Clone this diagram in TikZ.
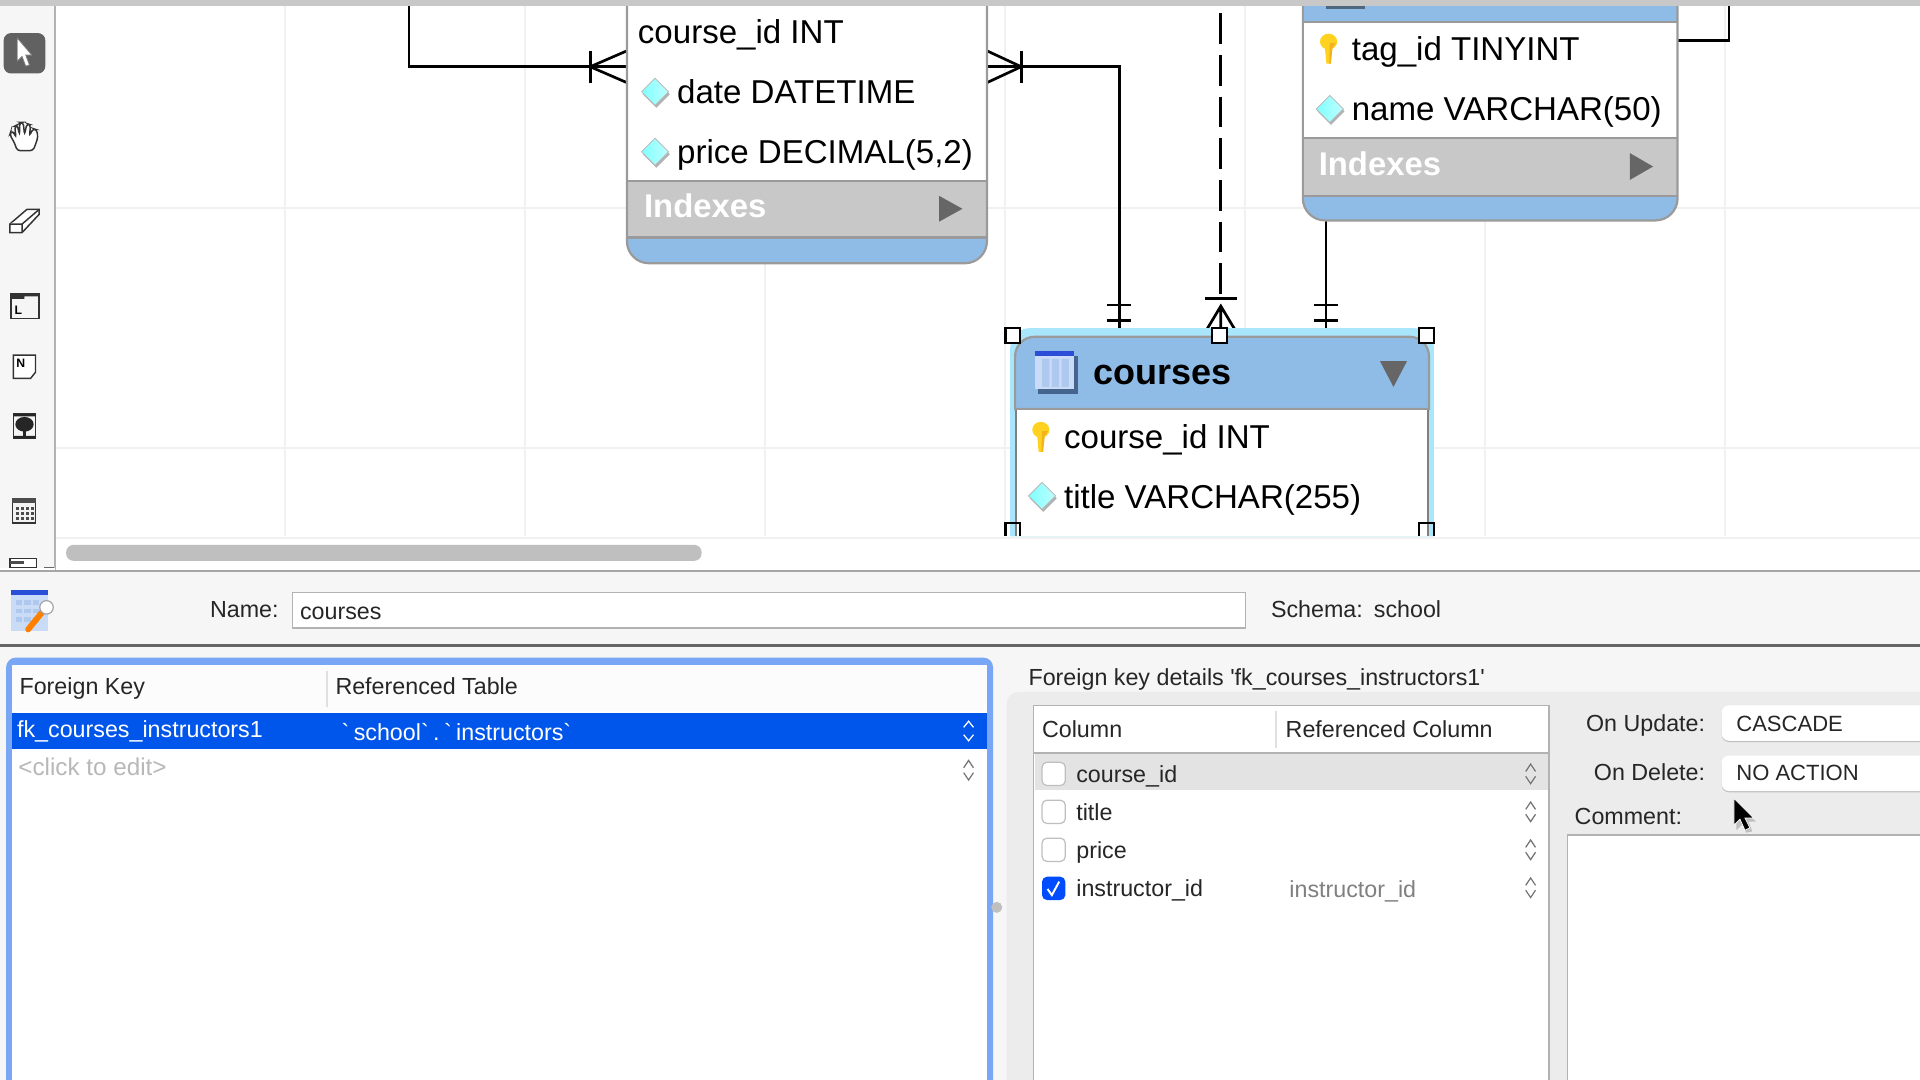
\documentclass[tikz,border=0pt]{standalone}
\usepackage{fontspec}
\setmainfont{Liberation Sans}[Ligatures=TeXOff]
\usetikzlibrary{calc}
\definecolor{tblue}{HTML}{8FBCE6}
\definecolor{tgray}{HTML}{C8C8C8}
\definecolor{tedge}{HTML}{9A9A9A}
\definecolor{gridc}{HTML}{F1F1F1}
\definecolor{panel}{HTML}{F6F6F6}
\definecolor{ring}{HTML}{7AA7F5}
\definecolor{selb}{HTML}{0056EA}
\definecolor{glow}{HTML}{A9E6FC}
\definecolor{tri}{HTML}{666666}
\definecolor{gp}{HTML}{ECECEC}
\definecolor{icpale}{HTML}{C9DBF6}
\definecolor{icstripe}{HTML}{AFC8EE}
\definecolor{ictop}{HTML}{2A4ED8}
\definecolor{icshadow}{HTML}{45658F}
\definecolor{keyy}{HTML}{FFD21F}
\definecolor{keyo}{HTML}{F2B320}
\tikzset{
  rowtext/.style={anchor=base west,inner sep=0pt,outer sep=0pt,font=\fontsize{13.5}{15}\selectfont,text=black},
  idxtext/.style={anchor=base west,inner sep=0pt,outer sep=0pt,font=\fontsize{13.4}{15}\selectfont\bfseries,text=white},
  uitext/.style={anchor=base west,inner sep=0pt,outer sep=0pt,font=\fontsize{9.5}{11}\selectfont,text=black!85},
  uiright/.style={uitext,anchor=base east},
  combotext/.style={uitext,font=\fontsize{9}{11}\selectfont},
  conn/.style={draw=black,line width=1.1pt},
  handle/.style={draw=black,fill=white,line width=1pt},
  frame/.style={draw=tedge,line width=0.9pt},
  tool/.style={draw=black!80,line width=0.6pt,fill=white},
  box/.style={draw=black!30,line width=0.6pt,fill=white},
  chk/.style={draw=black!25,line width=0.5pt,fill=white,rounded corners=2pt},
  updown/.pic={\draw[black!55,line width=0.5pt] (-4,-2)--(0,-8)--(4,-2) (-4,2)--(0,8)--(4,2);},
  dia/.pic={
    \fill[black!30] (-10,2)--(1,-9)--(12,2)--(1,13)--cycle;
    \fill[left color=cyan!50,right color=cyan!25,draw=black!25,line width=0.3pt] (-11,0)--(0,-11)--(11,0)--(0,11)--cycle;},
  goldkey/.pic={
    \fill[keyy] (0,-6) ellipse[x radius=7,y radius=6.5];
    \fill[keyy] (-3.2,-3) -- (3.2,-3) -- (1.8,12) -- (-1.8,12) -- cycle;
    \fill[keyo] (1,-5) -- (6,-5) -- (3.2,-1) -- (1.8,12) -- (0.5,12)--cycle;},
}
\begin{document}
\begin{tikzpicture}[x=0.5pt,y=-0.5pt]
\useasboundingbox (0,0) rectangle (1568,882);
\clip (0,0) rectangle (1568,882);
% canvas
\fill[white] (0,0) rectangle (1568,882);
\foreach \gx in {233,429,625,821,1017,1213,1409}{\draw[gridc,line width=0.8pt] (\gx,5)--(\gx,438);}
\foreach \gy in {170,366}{\draw[gridc,line width=0.8pt] (45,\gy)--(1568,\gy);}
\draw[gridc,line width=0.8pt] (45,439)--(1568,439);
\fill[tgray] (0,0) rectangle (1568,5);
\fill[panel] (0,5) rectangle (45,466);
\draw[black!30,line width=0.6pt] (45,5)--(45,466);
% scrollbar
\fill[black!25,rounded corners=3pt] (54,445) rectangle (573,458);
% toolbar
\fill[black!62,rounded corners=3pt] (3,27) rectangle (37,60);
\fill[white,draw=black!50,line width=0.3pt] (14,31)--(14,50)--(18,46)--(21,54)--(24,53)--(21,45)--(26,45)--cycle;
% hand
\draw[tool,rounded corners=1.2pt] (14,123)--(12,117)--(8,110)--(9,107)--(12,109)--(13,112)--(12,103)--(14,102)--(16,110)--(16,100)--(19,100)--(20,110)--(22,101)--(25,102)--(24,111)--(27,105)--(30,106)--(31,112)--(29,118)--(27,123)--cycle;
% eraser
\draw[tool] (8,183)--(8,190)--(18,190)--(32,175)--(32,171)--(22,171)--cycle;
\draw[tool] (8,183)--(18,183)--(32,171) (18,183)--(18,190);
% layer
\draw[tool,fill=black!4] (9,240) rectangle (32,260);
\fill[black!80] (9,240) rectangle (20,244) (20,240) rectangle (32,242);
\node[inner sep=0pt,font=\fontsize{5}{5}\selectfont\bfseries] (layerL) at (15,253) {L};
% note
\draw[tool] (11,290)--(29,290)--(29,304)--(25,309)--(11,309)--cycle;
\node[inner sep=0pt,font=\fontsize{5}{5}\selectfont\bfseries] (noteN) at (17,297) {N};
% image
\draw[tool,fill=black!4] (11,338) rectangle (29,358);
\fill[black!85] (11,338) rectangle (29,340) (11,356) rectangle (29,358);
\fill[black!85] (20,346.5) ellipse[x radius=7.5,y radius=6];
\fill[black!85] (19,350) rectangle (21,356);
% table icon
\draw[tool,fill=black!5] (10,407) rectangle (29,427);
\fill[black!70] (10,407) rectangle (29,411);
\foreach \tx in {13,17,21,25}{\foreach \ty in {414,418,422}{\fill[black!70] (\tx,\ty) rectangle +(2.5,2.5);}}
% cut routine icon
\draw[tool] (8,456) rectangle (30,464);
\fill[black!70] (8,458) rectangle (20,461);
\fill[white] (0,464) rectangle (45,466);
\draw[black!60,line width=0.4pt] (36,463.5)--(44,463.5);

% connectors
\coordinate (ltop) at (334,5);
\coordinate (lbend) at (334,54.5);
\coordinate (lbar) at (482,54.5);
\coordinate (datel) at (512,54.5);
\coordinate (dater) at (806,54.5);
\coordinate (rbar) at (834,54.5);
\coordinate (rbend) at (914,54.5);
\coordinate (c1) at (914,270);
\coordinate (dtop) at (997,11);
\coordinate (dbar) at (997,244);
\coordinate (dtip) at (997,250);
\coordinate (c2) at (997,270);
\coordinate (tagb) at (1083,180);
\coordinate (c3) at (1083,270);
\coordinate (tagr) at (1370,33);
\coordinate (tbend) at (1412,33);
\coordinate (ttop) at (1412,5);
\draw[conn] (ltop)--(lbend)--(datel);
\draw[conn] ($(lbar)+(0,-13)$)--($(lbar)+(0,13)$);
\draw[conn] ($(datel)+(0,-13)$)--(lbar)--($(datel)+(0,13)$);
\draw[conn] (dater)--(rbend)--(c1);
\draw[conn] ($(rbar)+(0,-13)$)--($(rbar)+(0,13)$);
\draw[conn] ($(dater)+(0,-13)$)--(rbar)--($(dater)+(0,13)$);
\draw[conn] ($(c1)+(-10,-21)$)--($(c1)+(10,-21)$) ($(c1)+(-10,-8)$)--($(c1)+(10,-8)$);
\draw[conn,dash pattern=on 12.5pt off 4.5pt] (dtop)--(dbar);
\draw[conn] ($(dbar)+(-13,0)$)--($(dbar)+(13,0)$);
\draw[conn] ($(c2)+(-12,0)$)--(dtip)--($(c2)+(12,0)$) (dtip)--(c2);
\draw[conn] (tagb)--(c3);
\draw[conn] ($(c3)+(-10,-21)$)--($(c3)+(10,-21)$) ($(c3)+(-10,-8)$)--($(c3)+(10,-8)$);
\draw[conn] (tagr)--(tbend)--(ttop);

% left table
\fill[white] (512,5) rectangle (806,148);
\fill[tgray] (512,148) rectangle (806,194);
\fill[tblue] (512,194)[rounded corners=9pt]--(512,215)--(806,215)[sharp corners]--(806,194)--cycle;
\draw[frame] (512,194)--(806,194) (512,148)--(806,148);
\draw[frame] (512,5)--(512,194)[rounded corners=9pt]--(512,215)--(806,215)[sharp corners]--(806,194)--(806,5);
\node[rowtext] (d1) at (521,35.5) {course\_id INT};
\node[rowtext] (d2) at (553,84.5) {date DATETIME};
\node[rowtext] (d3) at (553,133.5) {price DECIMAL(5,2)};
\pic at (535,75) {dia};
\pic at (535,124) {dia};
\node[idxtext] (d4) at (526,178) {Indexes};
\fill[tri] (767,160)--(786,170.5)--(767,181)--cycle;

% right table
\fill[tblue] (1064,5) rectangle (1370,18);
\fill[black!45!tblue] (1083,5) rectangle (1115,7);
\fill[white] (1064,18) rectangle (1370,113);
\fill[tgray] (1064,113) rectangle (1370,160);
\fill[tblue] (1064,160)[rounded corners=9pt]--(1064,180)--(1370,180)[sharp corners]--(1370,160)--cycle;
\draw[frame] (1064,18)--(1370,18) (1064,113)--(1370,113) (1064,160)--(1370,160);
\draw[frame] (1064,5)--(1064,160)[rounded corners=9pt]--(1064,180)--(1370,180)[sharp corners]--(1370,160)--(1370,5);
\node[rowtext] (t1) at (1104,49.5) {tag\_id TINYINT};
\node[rowtext] (t2) at (1104,98.5) {name VARCHAR(50)};
\pic at (1085,40) {goldkey};
\pic at (1086,89) {dia};
\node[idxtext] (t3) at (1077,143) {Indexes};
\fill[tri] (1331,125)--(1350,136)--(1331,147)--cycle;

% courses table
\fill[glow] (825,438)[rounded corners=8pt]--(825,268)--(1171,268)[sharp corners]--(1171,438)--cycle;
\fill[tblue] (829,334)[rounded corners=8pt]--(829,275)--(1167,275)[sharp corners]--(1167,334)--cycle;
\draw[frame] (829,334)[rounded corners=8pt]--(829,275)--(1167,275)[sharp corners]--(1167,334)--cycle;
\fill[white] (830,335) rectangle (1166,438);
\draw[frame,draw=black!50] (830,335)--(830,438) (1166,335)--(1166,438);
% courses icon
\fill[icshadow] (848,291) rectangle (880,322);
\fill[icpale] (845,287) rectangle (877,318);
\fill[icstripe] (851,293) rectangle (857,316) (859,293) rectangle (865,316) (867,293) rectangle (873,316);
\fill[ictop] (845,287) rectangle (877,291);
\node[rowtext,font=\fontsize{14.7}{16}\selectfont\bfseries] (ctitle) at (893,314) {courses};
\fill[tri] (1127,295)--(1149,295)--(1138,316)--cycle;
\pic at (850,357) {goldkey};
\pic at (851,405) {dia};
\node[rowtext] (c4) at (869,366) {course\_id INT};
\node[rowtext] (c5) at (869,415) {title VARCHAR(255)};
\draw[handle] (821,268) rectangle (833,280);
\draw[handle] (990,268) rectangle (1002,280);
\draw[handle] (1159,268) rectangle (1171,280);
\draw[black,line width=1pt] (821,438)--(821,427)--(833,427)--(833,438);
\draw[black,line width=1pt] (1159,438)--(1159,427)--(1171,427)--(1171,438);

% lower panel
\fill[panel] (0,467) rectangle (1568,882);
\draw[black!35,line width=1pt] (0,466.5)--(1568,466.5);
\draw[black!60,line width=1pt] (0,527)--(1568,527);
% editor icon
\fill[icpale] (9,482) rectangle (39,515);
\fill[ictop] (9,482) rectangle (39,486);
\foreach \tx in {13,20,27}{\foreach \ty in {490,497,504}{\fill[icstripe] (\tx,\ty) rectangle +(5,4);}}
\draw[orange,line width=2.4pt,line cap=round] (23,514)--(36,498);
\draw[black!35,fill=white,line width=0.5pt] (38,496) circle (5.5);
\node[uiright] (nm) at (227.5,504) {Name:};
\draw[box] (239,484) rectangle (1017,513);
\node[uitext] (nmv) at (245,506) {courses};
\node[uitext] (sc) at (1038,504) {Schema:};
\node[uitext] (scv) at (1122,504) {school};

% fk list
\fill[ring,rounded corners=4pt] (5,895)--(5,537)--(811,537)--(811,895)--cycle;
\fill[white] (10,543) rectangle (806,882);
\fill[black!1] (10,543) rectangle (806,581);
\draw[black!12,line width=0.6pt] (267,548)--(267,577);
\node[uitext] (fk1) at (16,567) {Foreign Key};
\node[uitext] (fk2) at (274,567) {Referenced Table};
\fill[selb] (10,582) rectangle (806,612);
\node[uitext,text=white] (fk3) at (14,602) {fk\_courses\_instructors1};
\node[uitext,text=white] (fk4) at (279,604.5) {`\kern1.8pt school`\kern1.8pt.\kern1.8pt`\kern1.8pt instructors`};
\draw[white,line width=0.5pt] (787,594)--(791,589)--(795,594) (787,600)--(791,605)--(795,600);
\node[uitext,text=black!28,font=\fontsize{9.9}{11}\selectfont] (fk5) at (15,633) {<click to edit>};
\pic at (791,629) {updown};
\fill[black!25] (814,741) circle (4.5);

% details
\node[uitext] (det) at (840,559.5) {Foreign key details 'fk\_courses\_instructors1'};
\fill[gp,rounded corners=5pt] (822,895)--(822,565)--(1590,565)--(1590,895)--cycle;
\draw[box] (844,576) rectangle (1265,890);
\fill[white] (845,577) rectangle (1264,614);
\draw[black!30,line width=0.8pt] (844,615)--(1265,615);
\draw[black!12,line width=0.6pt] (1042,581)--(1042,611);
\node[uitext] (cl1) at (851,602) {Column};
\node[uitext] (cl2) at (1050,602) {Referenced Column};
\fill[black!11] (845,616) rectangle (1264,645);
\draw[chk] (851,622.5) rectangle (870,641.5);
\draw[chk] (851,653.5) rectangle (870,672.5);
\draw[chk] (851,684.5) rectangle (870,703.5);
\fill[blue!70!cyan,rounded corners=2pt] (851,716) rectangle (870,735);
\draw[white,line width=0.8pt] (855.5,726)--(859,731)--(865,720);
\node[uitext] (r1) at (879,639) {course\_id};
\node[uitext] (r2) at (879,670) {title};
\node[uitext] (r3) at (879,701) {price};
\node[uitext] (r4) at (879,732) {instructor\_id};
\node[uitext,text=black!50] (r5) at (1053,733) {instructor\_id};
\pic at (1250,632) {updown};
\pic at (1250,663) {updown};
\pic at (1250,694) {updown};
\pic at (1250,725) {updown};
\node[uiright] (ou) at (1392.5,597) {On Update:};
\node[uiright] (od) at (1392.5,637.5) {On Delete:};
\fill[black!25,rounded corners=3pt] (1406,577)--(1590,577)--(1590,606)--(1406,606)--cycle;
\fill[white,rounded corners=3pt] (1406,576)--(1590,576)--(1590,605)--(1406,605)--cycle;
\fill[black!25,rounded corners=3pt] (1406,618)--(1590,618)--(1590,647)--(1406,647)--cycle;
\fill[white,rounded corners=3pt] (1406,617)--(1590,617)--(1590,646)--(1406,646)--cycle;
\node[combotext] (ov) at (1418,597) {CASCADE};
\node[combotext] (dv) at (1418,637.5) {NO ACTION};
\node[uitext] (cm) at (1286,673.5) {Comment:};
\draw[box] (1280,682) rectangle (1590,890);
% pointer
\fill[black!25] (1418,655)--(1418,678)--(1423,673)--(1426,680)--(1431,679)--(1428,671)--(1434,671)--cycle;
\fill[black,draw=white,line width=0.3pt] (1416,652)--(1416,674)--(1421,669)--(1425,678)--(1429,676)--(1425,668)--(1432,668)--cycle;
\end{tikzpicture}
\end{document}
